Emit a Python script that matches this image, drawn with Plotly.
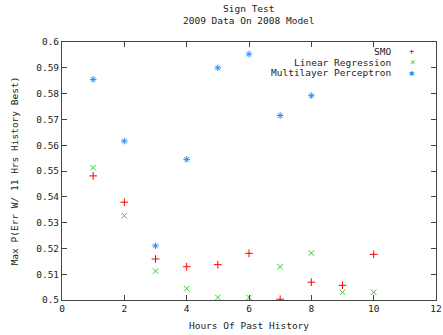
import plotly.graph_objects as go

hours = [1, 2, 3, 4, 5, 6, 7, 8, 9, 10]
smo = [0.5481, 0.5379, 0.5159, 0.5129, 0.5137, 0.5181, 0.5003, 0.5069, 0.5057, 0.5177]
linreg = [0.5513, 0.5327, 0.5112, 0.5044, 0.5010, 0.5010, 0.5129, 0.5182, 0.5030, 0.5030]
mlp_x = [1, 2, 3, 4, 5, 6, 7, 8]
mlp = [0.5855, 0.5616, 0.5210, 0.5545, 0.5900, 0.5953, 0.5715, 0.5792]

series_names = ["SMO", "Linear Regression", "Multilayer Perceptron"]
colors = ["#ff0000", "#33cc33", "#2a8cff"]
symbols = ["cross-thin-open", "x-thin-open", "asterisk-open"]
legend_glyphs = ["+", "×", "✱"]

FONT = "DejaVu Sans Mono"
TXT = "#222222"

fig = go.Figure()
for xs, ys, name, c, s in [(hours, smo, series_names[0], colors[0], symbols[0]),
                            (hours, linreg, series_names[1], colors[1], symbols[1]),
                            (mlp_x, mlp, series_names[2], colors[2], symbols[2])]:
    fig.add_trace(go.Scatter(x=xs, y=ys, mode="markers", name=name,
                             marker=dict(symbol=s, size=5.5, color=c,
                                         line=dict(color=c, width=1))))

ann = []
rows_y = [0.965, 0.922, 0.880]
for name, c, g, yy in zip(series_names, colors, legend_glyphs, rows_y):
    ann.append(dict(xref="paper", yref="paper", x=0.885, y=yy, text=name,
                    showarrow=False, xanchor="right", yanchor="middle",
                    font=dict(family=FONT, size=9.5, color=TXT)))
    ann.append(dict(xref="paper", yref="paper", x=0.936, y=yy, text=g,
                    showarrow=False, xanchor="center", yanchor="middle",
                    font=dict(family=FONT, size=9, color=c)))

ann.append(dict(xref="paper", yref="paper", x=0.5, y=1, yshift=41,
                text="Sign Test<br>2009 Data On 2008 Model", showarrow=False,
                xanchor="center", yanchor="top",
                font=dict(family=FONT, size=9.5, color=TXT)))

axis_common = dict(showgrid=False, zeroline=False, showline=True, mirror="ticks",
                   linecolor="#444444", linewidth=1, ticks="inside", ticklen=5,
                   tickcolor="#444444", tickfont=dict(family=FONT, size=9.5, color=TXT))

fig.update_layout(
    width=443, height=335,
    margin=dict(l=62, r=7, t=42, b=35, autoexpand=False),
    paper_bgcolor="white", plot_bgcolor="white",
    showlegend=False,
    annotations=ann,
    xaxis=dict(range=[0, 12], dtick=2, tickformat="d", automargin=False,
               title=dict(text="Hours Of Past History", standoff=8,
                          font=dict(family=FONT, size=9.5, color=TXT)),
               **axis_common),
    yaxis=dict(range=[0.5, 0.6], dtick=0.01, tickformat="~g", automargin=False,
               title=dict(text="Max P(Err W/ 11 Hrs History Best)", standoff=15,
                          font=dict(family=FONT, size=9.5, color=TXT)),
               **axis_common),
)

fig.write_html("out.html")
